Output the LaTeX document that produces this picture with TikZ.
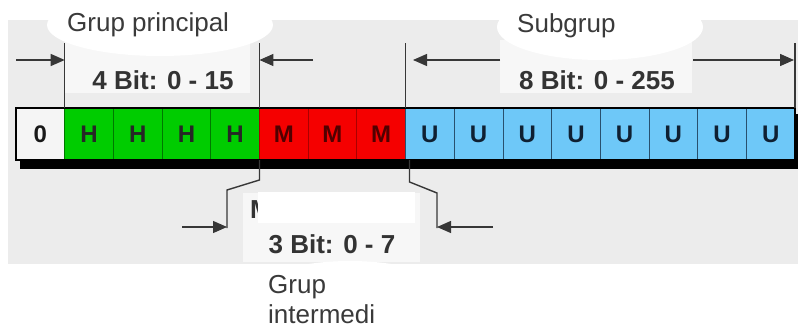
\documentclass[tikz,border=0pt]{standalone}
\usepackage{fontspec}
\setmainfont{Liberation Sans}
\usetikzlibrary{positioning,arrows.meta}

\definecolor{bggrey}{RGB}{236,236,236}
\definecolor{palebox}{RGB}{247,247,247}
\definecolor{linegrey}{RGB}{55,55,55}
\definecolor{textgrey}{RGB}{58,58,58}
\definecolor{zerofill}{RGB}{245,245,245}
\definecolor{hfill}{RGB}{0,204,0}
\definecolor{hline}{RGB}{0,120,0}
\definecolor{mfill}{RGB}{245,0,0}
\definecolor{mline}{RGB}{170,0,0}
\definecolor{mtext}{RGB}{80,0,0}
\definecolor{ufill}{RGB}{110,200,248}
\definecolor{uline}{RGB}{40,80,110}
\definecolor{utext}{RGB}{15,32,50}

\tikzset{
  cell/.style={draw, minimum width=48.69pt, minimum height=52pt, inner sep=0pt,
    outer sep=0pt, line width=0.8pt, font=\fontsize{24}{28}\selectfont\bfseries},
  zero/.style={fill=zerofill, draw=black, line width=1.5pt, text=black!90},
  hcell/.style={fill=hfill, draw=hline, text=black!85},
  mcell/.style={fill=mfill, draw=mline, text=mtext},
  ucell/.style={fill=ufill, draw=uline, text=utext},
  dimline/.style={draw=linegrey, line width=1.4pt},
  dimarrow/.style={dimline, -{Triangle[length=14pt,width=12pt]}},
  bitlabel/.style={font=\fontsize{26}{30}\selectfont\bfseries, text=black!80},
  bubbletext/.style={font=\fontsize{26}{30}\selectfont, text=textgrey, inner sep=0pt}
}

\begin{document}
\begin{tikzpicture}[x=1pt,y=-1pt]
\useasboundingbox (0,0) rectangle (798,329);
\fill[bggrey] (8,20) rectangle (798,264);

% pale label boxes
\fill[palebox] (65,40) rectangle (250,93);
\fill[palebox] (500,40) rectangle (692,93);
\fill[palebox] (243,193) rectangle (420,262);
\node[bitlabel, anchor=west, inner sep=0pt] (mfrag) at (250,210) {M};
\fill[white] (258,192) rectangle (415,223);

\node[bitlabel] (hbits) at (163,80) {4 Bit: 0 - 15};
\node[bitlabel] (ubits) at (597,80) {8 Bit: 0 - 255};
\node[bitlabel] (mbits) at (332,244) {3 Bit: 0 - 7};

% the bit row
\fill[black] (20,114) rectangle (798,169);
\node[cell, zero, anchor=west] (bit0) at (16,134) {0};
\foreach \i [evaluate=\i as \j using int(\i-1)] in {1,...,4}
  \node[cell, hcell, right=0pt of bit\j] (bit\i) {H};
\foreach \i [evaluate=\i as \j using int(\i-1)] in {5,6,7}
  \node[cell, mcell, right=0pt of bit\j] (bit\i) {M};
\foreach \i [evaluate=\i as \j using int(\i-1)] in {8,...,15}
  \node[cell, ucell, right=0pt of bit\j] (bit\i) {U};
\draw[black, line width=2pt] (bit0.north west) rectangle (bit15.south east);

% dimension lines
\draw[dimline] (bit1.north west) -- ++(0,-65);
\draw[dimline] (bit5.north west) -- ++(0,-65);
\draw[dimline] (bit8.north west) -- ++(0,-65);
\draw[dimline] (bit15.north east) -- ++(0,-65);
\draw[dimline] (bit5.south west) -- ++(0,20) -- (227,190) -- (227,228);
\draw[dimline] (bit8.south west) ++(4,0) -- ++(0,22) -- (437,193) -- (437,228);

\coordinate (pA) at (16,60);
\coordinate (pB) at (313,60);
\coordinate (sA) at (500,60);
\coordinate (sAend) at (413,60);
\coordinate (sB) at (693,60);
\coordinate (sBend) at (794,60);
\coordinate (mA) at (182,227);
\coordinate (mB) at (493,227);
\draw[dimarrow] (pA) -- (pA -| bit1.west);
\draw[dimarrow] (pB) -- (pB -| bit5.west);
\draw[dimarrow] (sA) -- (sAend);
\draw[dimarrow] (sB) -- (sBend);
\draw[dimarrow] (mA) -- (227,227);
\draw[dimarrow] (mB) -- (437,227);

% bubbles
\fill[white] (160,25) ellipse [x radius=113pt, y radius=31pt];
\fill[white] (600,27) ellipse [x radius=103pt, y radius=33pt];
\fill[white] (350,295) ellipse [x radius=100pt, y radius=34pt];
\node[bubbletext, anchor=base west] (principal) at (67,32) {Grup principal};
\node[bubbletext, anchor=base west] (subgrup) at (517,33) {Subgrup};
\node[bubbletext, anchor=north west, align=left] (intermedi) at (268,275) {Grup\\intermedi};
\end{tikzpicture}
\end{document}
